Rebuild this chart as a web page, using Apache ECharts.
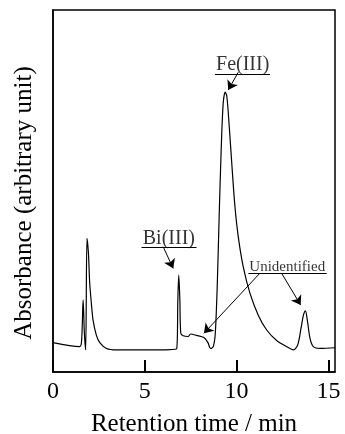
<!DOCTYPE html>
<html>
<head>
<meta charset="utf-8">
<script src="https://cdn.jsdelivr.net/npm/echarts@6/dist/echarts.min.js"></script>
<style>
  html, body { margin: 0; padding: 0; background: #fff; }
  #chart { width: 345px; height: 434px; }
</style>
</head>
<body>
<div id="chart"></div>
<script>
// chromatogram trace
const times = [0, 1.45, 1.56, 1.64, 1.71, 1.78, 1.85, 1.93, 2.0, 2.09, 2.18, 2.36, 2.55, 2.91, 3.45, 5.27,
  6.73, 6.8, 6.85, 6.91, 6.96, 7.09, 7.36, 7.49, 7.82, 8.22, 8.44, 8.58, 8.73, 8.84, 8.95, 9.05, 9.16,
  9.27, 9.38, 9.47, 9.6, 9.75, 9.91, 10.09, 10.36, 10.73, 11.18, 11.64, 12.18, 12.73, 13.09, 13.33,
  13.51, 13.64, 13.75, 13.85, 14.0, 14.18, 14.55, 15.36];
const absorbance = [8.1, 7.0, 8.8, 19.9, 10.7, 6.1, 36.9, 32.8, 24.5, 19.0, 14.4, 10.2, 8.1, 6.5, 6.1, 6.1,
  6.4, 19.9, 26.8, 19.9, 10.7, 10.0, 9.8, 10.5, 10.1, 9.5, 8.1, 6.5, 7.0, 10.7, 24.5, 42.9, 61.3,
  74.2, 77.3, 76.1, 67.8, 56.7, 45.7, 37.4, 29.1, 21.7, 15.7, 11.6, 8.7, 7.0, 6.1, 7.5,
  12.1, 15.7, 16.9, 14.4, 9.3, 7.0, 6.5, 6.7];

const xTicks = [0, 5, 10, 15];

// peak labels: name, label position, underline span
const labelNames = ["Fe(III)", "Bi(III)", "Unidentified"];
const labelPos = [[10.33, 84.8], [6.31, 36.9], [12.76, 29.1]];
const underlines = [[[8.82, 82.3], [11.82, 82.3]], [[4.82, 34.4], [7.82, 34.4]], [[10.64, 27.4], [14.91, 27.4]]];
const arrows = [
  [[10.09, 82.8], [9.545, 77.9]],
  [[6.0, 34.6], [6.55, 28.6]],
  [[11.27, 27.3], [8.22, 10.7]],
  [[12.45, 27.3], [13.49, 18.5]]
];

const chart = echarts.init(document.getElementById("chart"));
const font = "'Liberation Serif', 'DejaVu Serif', serif";

const option = {
  animation: false,
  grid: {
    left: 53, right: 10, top: 10, bottom: 62,
    outerBoundsMode: "none",
    containLabel: false,
    show: true, borderColor: "#000", borderWidth: 1.5
  },
  xAxis: {
    type: "value",
    min: 0, max: 15.36,
    name: "Retention time / min",
    nameLocation: "middle",
    nameGap: 40,
    nameTextStyle: { color: "#000", fontSize: 25, fontFamily: font },
    axisLine: { show: true, lineStyle: { color: "#000", width: 1.5 } },
    axisTick: { show: true, inside: true, length: 12, customValues: xTicks, lineStyle: { color: "#000", width: 2 } },
    axisLabel: { customValues: xTicks, color: "#000", fontSize: 24, fontFamily: font, margin: 8 },
    splitLine: { show: false }
  },
  yAxis: {
    type: "value",
    min: 0, max: 100,
    name: "Absorbance (arbitrary unit)",
    nameLocation: "middle",
    nameGap: 16,
    nameTextStyle: { color: "#000", fontSize: 25, fontFamily: font, padding: [0, 24, 0, 0] },
    axisLine: { show: true, lineStyle: { color: "#000", width: 1.5 } },
    axisTick: { show: false },
    axisLabel: { show: false },
    splitLine: { show: false }
  },
  series: [
    {
      type: "line",
      data: times.map((t, i) => [t, absorbance[i]]),
      showSymbol: false,
      smooth: 0.3,
      lineStyle: { color: "#000", width: 1.2 },
      silent: true,
      markLine: {
        silent: true,
        animation: false,
        symbol: ["none", "arrow"],
        symbolSize: 9,
        label: { show: false },
        lineStyle: { color: "#000", width: 1, type: "solid" },
        data: arrows.map(a => [{ coord: a[0] }, { coord: a[1] }]).concat(
          underlines.map(u => [{ coord: u[0], symbol: "none" }, { coord: u[1], symbol: "none" }])
        )
      }
    },
    {
      type: "scatter",
      symbolSize: 0,
      silent: true,
      data: labelNames.map((n, i) => ({ name: n, value: labelPos[i] })),
      label: {
        show: true,
        position: "inside",
        formatter: "{b}",
        color: "#000",
        fontFamily: font,
        fontSize: 20
      }
    }
  ]
};
// smaller font for the "Unidentified" label
option.series[1].data[2].label = { fontSize: 15 };

chart.setOption(option);
</script>
</body>
</html>
